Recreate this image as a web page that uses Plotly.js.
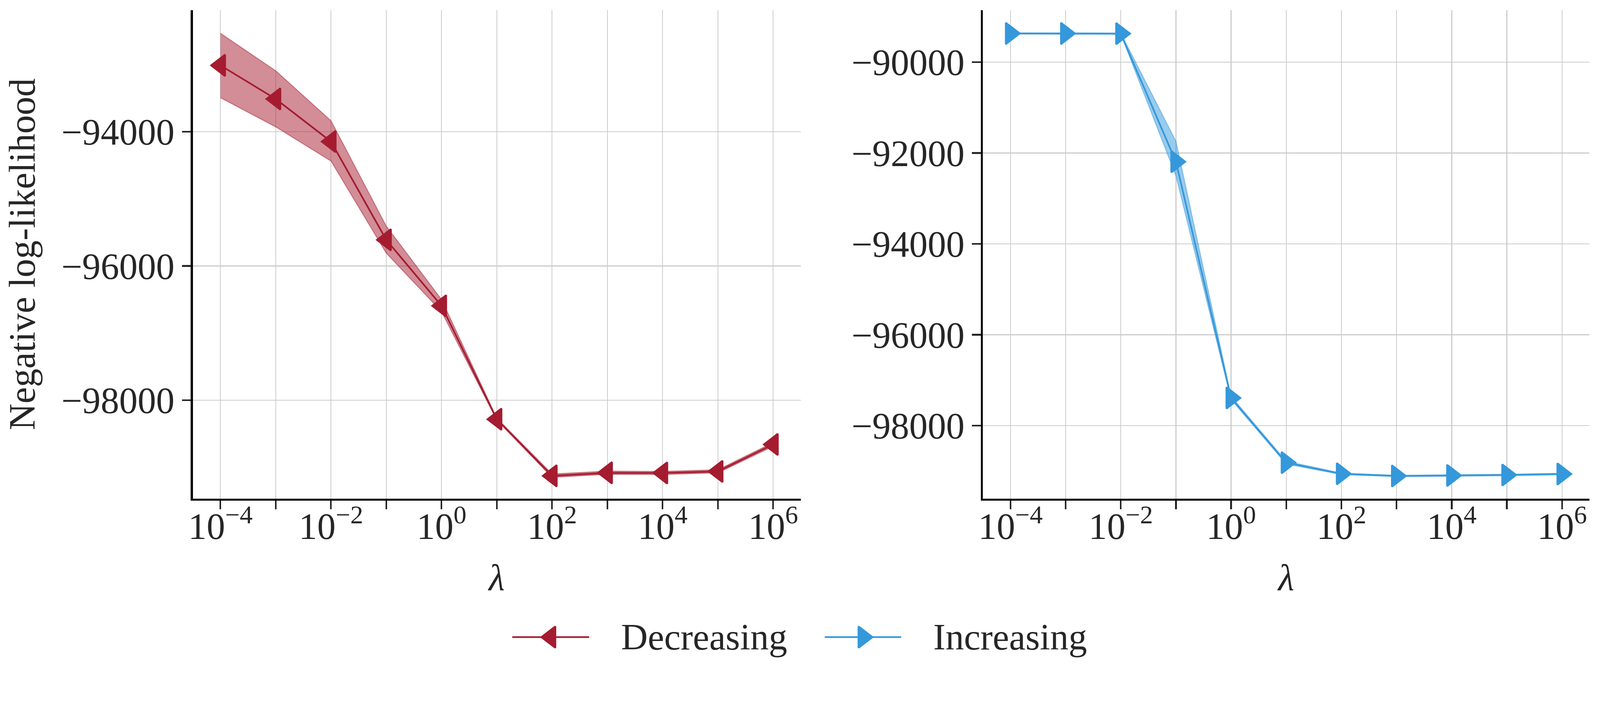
<!DOCTYPE html>
<html>
<head>
<meta charset="utf-8">
<script src="https://cdn.plot.ly/plotly-3.0.1.min.js"></script>
<style>
  html, body { margin: 0; padding: 0; background: #fff; overflow: hidden; }
  #chart { position: absolute; left: 0; top: 0; }
</style>
</head>
<body>
<div id="chart"></div>
<script>
// lambda values (x)
const lambdas = [1e-4, 1e-3, 1e-2, 1e-1, 1e0, 1e1, 1e2, 1e3, 1e4, 1e5, 1e6];

// Decreasing (left panel)
const decMean  = [-93009, -93510, -94145, -95610, -96594, -98284, -99128, -99083, -99085, -99062, -98660];
const decUpper = [-92531, -93090, -93835, -95405, -96500, -98268, -99100, -99058, -99062, -99038, -98632];
const decLower = [-93491, -93926, -94435, -95808, -96680, -98300, -99152, -99105, -99108, -99084, -98688];

// Increasing (right panel)
const incMean  = [-89368, -89368, -89372, -92190, -97390, -98815, -99060, -99108, -99097, -99086, -99064];
const incUpper = [-89355, -89355, -89360, -91740, -97355, -98785, -99044, -99093, -99082, -99071, -99049];
const incLower = [-89381, -89381, -89385, -92500, -97425, -98845, -99076, -99123, -99112, -99101, -99079];

// ticks
const xTickVals = lambdas;
const xTickText = ['10<sup>\u22124</sup>', '', '10<sup>\u22122</sup>', '', '10<sup>0</sup>', '',
                   '10<sup>2</sup>', '', '10<sup>4</sup>', '', '10<sup>6</sup>'];
const yTickValsLeft  = [-94000, -96000, -98000];
const yTickValsRight = [-90000, -92000, -94000, -96000, -98000];
const fmtY = v => String(v).replace('-', '\u2212');

const seriesNames = ['Decreasing', 'Increasing'];

// the page is designed at 4332x1855; scale to the real viewport
const W0 = 4332, H0 = 1855;
const k = Math.min(window.innerWidth / W0, window.innerHeight / H0);
const px = v => v * k;

const RED = '#A51C30';
const BLUE = '#3498DB';
const RED_A = 'rgba(165,28,48,0.5)';
const BLUE_A = 'rgba(52,152,219,0.5)';
const FONT = 'Liberation Serif, DejaVu Serif, serif';
const TXT = '#262626';
const FS = px(100);
const MS = px(50);
const MLW = px(5);

function band(x, up, lo, col, xa, ya) {
  return {
    x: x.concat(x.slice().reverse()),
    y: up.concat(lo.slice().reverse()),
    xaxis: xa, yaxis: ya,
    mode: 'lines', fill: 'toself', fillcolor: col,
    line: { color: col, width: px(2.5) },
    hoverinfo: 'skip', showlegend: false
  };
}

function meanLine(x, y, col, sym, xa, ya) {
  return {
    x: x, y: y, xaxis: xa, yaxis: ya,
    mode: 'lines+markers',
    line: { color: col, width: px(4.5) },
    marker: { symbol: sym, size: MS, color: col, line: { color: col, width: MLW } },
    showlegend: false
  };
}

// legend key geometry in reference pixels (hidden x3/y3 axes)
const keyY = 1724;
const keyDec = [1387, 1595], keyDecMark = 1491;
const keyInc = [2233, 2440], keyIncMark = 2337;

function legendLine(xs, col) {
  return {
    x: xs, y: [keyY, keyY], xaxis: 'x3', yaxis: 'y3',
    mode: 'lines', line: { color: col, width: px(4.5) },
    hoverinfo: 'skip', showlegend: false
  };
}
function legendMark(xm, col, sym) {
  return {
    x: [xm], y: [keyY], xaxis: 'x3', yaxis: 'y3',
    mode: 'markers',
    marker: { symbol: sym, size: MS, color: col, line: { color: col, width: MLW } },
    hoverinfo: 'skip', showlegend: false
  };
}

const traces = [
  band(lambdas, decUpper, decLower, RED_A, 'x', 'y'),
  meanLine(lambdas, decMean, RED, 'triangle-left', 'x', 'y'),
  band(lambdas, incUpper, incLower, BLUE_A, 'x2', 'y2'),
  meanLine(lambdas, incMean, BLUE, 'triangle-right', 'x2', 'y2'),
  legendLine(keyDec, RED), legendMark(keyDecMark, RED, 'triangle-left'),
  legendLine(keyInc, BLUE), legendMark(keyIncMark, BLUE, 'triangle-right')
];

const xBase = {
  type: 'log', range: [-4.5, 6.5],
  tickvals: xTickVals, ticktext: xTickText,
  showgrid: true, gridcolor: '#cccccc', gridwidth: px(2.5),
  showline: true, linecolor: '#000', linewidth: px(5.5),
  ticks: 'outside', ticklen: px(24), tickwidth: px(4.5), tickcolor: '#262626',
  tickfont: { family: FONT, size: FS, color: TXT },
  ticklabelstandoff: Math.round(px(-40)),
  zeroline: false,
  title: { text: '<i>\u03bb</i>', font: { family: FONT, size: FS, color: TXT }, standoff: px(50) }
};

const yBase = {
  showgrid: true, gridcolor: '#cccccc', gridwidth: px(2.5),
  showline: true, linecolor: '#000', linewidth: px(5.5),
  ticks: 'outside', ticklen: px(24), tickwidth: px(4.5), tickcolor: '#262626',
  tickfont: { family: FONT, size: FS, color: TXT },
  zeroline: false
};

const layout = {
  width: W0 * k, height: H0 * k,
  margin: { l: 0, r: 0, t: 0, b: 0 },
  paper_bgcolor: '#fff', plot_bgcolor: 'rgba(0,0,0,0)',
  showlegend: false,
  font: { family: FONT, size: FS, color: TXT },
  xaxis: Object.assign({}, xBase, { domain: [0.1205, 0.5005], anchor: 'y' }),
  yaxis: Object.assign({}, yBase, {
    domain: [0.2728, 0.9854], anchor: 'x', range: [-99466, -92184],
    tickvals: yTickValsLeft, ticktext: yTickValsLeft.map(fmtY),
    title: { text: 'Negative log-likelihood', font: { family: FONT, size: FS, color: TXT }, standoff: px(40) }
  }),
  xaxis2: Object.assign({}, xBase, { domain: [0.6143, 0.9935], anchor: 'y2' }),
  yaxis2: Object.assign({}, yBase, {
    domain: [0.2728, 0.9854], anchor: 'x2', range: [-99604, -88852],
    tickvals: yTickValsRight, ticktext: yTickValsRight.map(fmtY)
  }),
  xaxis3: { domain: [0, 1], range: [0, W0], visible: false, fixedrange: true, anchor: 'y3' },
  yaxis3: { domain: [0, 1], range: [H0, 0], visible: false, fixedrange: true, anchor: 'x3' },
  annotations: [
    { text: seriesNames[0], xref: 'x3', yref: 'y3', x: 1680, y: keyY, xanchor: 'left', yanchor: 'middle',
      showarrow: false, font: { family: FONT, size: FS, color: TXT } },
    { text: seriesNames[1], xref: 'x3', yref: 'y3', x: 2525, y: keyY, xanchor: 'left', yanchor: 'middle',
      showarrow: false, font: { family: FONT, size: FS, color: TXT } }
  ]
};

Plotly.newPlot('chart', traces, layout, { displayModeBar: false, staticPlot: true });
</script>
</body>
</html>
